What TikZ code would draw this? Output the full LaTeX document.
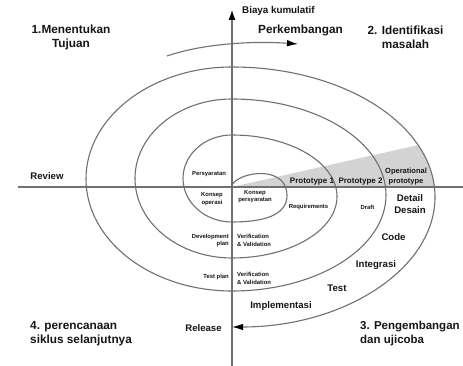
\documentclass[tikz,border=0pt]{standalone}
\usepackage{fontspec}
\setmainfont{Liberation Sans}
\usetikzlibrary{arrows.meta}
\definecolor{linegray}{HTML}{707070}
\definecolor{shadegray}{HTML}{D3D3D3}
\definecolor{txt}{HTML}{151515}
\begin{document}
\begin{tikzpicture}[x=1pt,y=1pt,
  spiral/.style={draw=linegray, line width=1.1pt},
  axisline/.style={draw=linegray, line width=1.1pt},
  lbl/.style={text=txt, inner sep=0pt, align=center},
  big/.style={lbl, font=\fontsize{11.8}{14}\selectfont\bfseries},
  mid/.style={lbl, font=\fontsize{9.6}{12}\selectfont\bfseries},
  proto/.style={lbl, font=\fontsize{8}{10}\selectfont\bfseries},
  oper/.style={lbl, font=\fontsize{7.5}{10}\selectfont\bfseries},
  tiny/.style={lbl, font=\fontsize{5.9}{7.5}\selectfont\bfseries},
  tipA/.style={-{Latex[length=11pt,width=6.5pt,color=black]}}
]
\useasboundingbox (0,0) rectangle (463,366);

% shaded wedge
\begin{scope}
  \clip (232,169) ellipse [x radius=203, y radius=130];
  \fill[shadegray] (232,179) -- (445,227) -- (445,179) -- cycle;
\end{scope}

% axes
\coordinate (O) at (232,179);
\coordinate (ytop) at (232,356);
\coordinate (ybot) at (232,0);
\coordinate (xl) at (18,179);
\coordinate (xr) at (463,179);
\draw[axisline] (xl) -- (xr);
\draw[axisline, -{Latex[length=10pt,width=7pt,color=black]}] (ybot) -- (ytop);

% spiral
\coordinate (s0) at (232,181);
\draw[spiral] (s0) .. controls (240,195) and (287,201) .. (287,170.5)
  .. controls (287,150) and (262,144) .. (232,144)
  arc[start angle=270, end angle=90, x radius=49, y radius=43.5]
  arc[start angle=90, end angle=-90, x radius=105, y radius=61.5]
  arc[start angle=270, end angle=90, x radius=97, y radius=79.5]
  arc[start angle=90, end angle=-90, x radius=154, y radius=96]
  arc[start angle=270, end angle=90, x radius=146, y radius=112] coordinate (s6);
\draw[spiral, tipA] (s6) arc[start angle=90, end angle=-90, x radius=203, y radius=130];

% Perkembangan arrow
\coordinate (p0) at (167,310);
\coordinate (p1) at (298,322);
\draw[spiral, tipA] (p0) .. controls (205,323) and (255,325) .. (p1);

% big labels
\node[big] (t1) at (71,329) {1.Menentukan\\Tujuan};
\node[big] (t2) at (405.5,329) {2. Identifikasi\\masalah};
\node[big] (perk) at (300.5,336) {Perkembangan};
\node[big, anchor=west, align=left] (t4) at (30,32.5) {4. perencanaan\\siklus selanjutnya};
\node[big, anchor=west, align=left, font=\fontsize{11.5}{14}\selectfont\bfseries] (t3) at (360,32) {3. Pengembangan\\dan ujicoba};

% medium labels
\node[mid, anchor=west, font=\fontsize{9.8}{12}\selectfont\bfseries] (biaya) at (242,355) {Biaya kumulatif};
\node[mid] (review) at (47,190) {Review};
\node[mid] (release) at (203.5,38) {Release};
\node[mid] (impl) at (281,60) {Implementasi};
\node[mid] (test) at (337,78) {Test};
\node[mid] (integ) at (376,101) {Integrasi};
\node[mid] (code) at (393.5,129) {Code};
\node[mid] (detail) at (410,162) {Detail\\Desain};

% prototype labels
\node[proto] (pr1) at (312,184) {Prototype 1};
\node[proto] (pr2) at (360.5,184) {Prototype 2};
\node[oper] (opr) at (406,189) {Operational\\prototype};

% tiny labels
\node[tiny] (pers) at (209,192) {Persyaratan};
\node[tiny] (kops) at (212,167) {Konsep\\operasi};
\node[tiny] (kpers) at (255,169.5) {Konsep\\persyaratan};
\node[tiny] (req) at (308.5,159) {Requirements};
\node[tiny] (draft) at (367.5,159) {Draft};
\node[tiny, anchor=west, align=left] (vv1) at (237,125.5) {Verification\\\& Validation};
\node[tiny, anchor=east, align=right] (dev) at (229,125.5) {Development\\plan};
\node[tiny, anchor=east, align=right] (tplan) at (229,89) {Test plan};
\node[tiny, anchor=west, align=left] (vv2) at (237,87.5) {Verification\\\& Validation};
\end{tikzpicture}
\end{document}
